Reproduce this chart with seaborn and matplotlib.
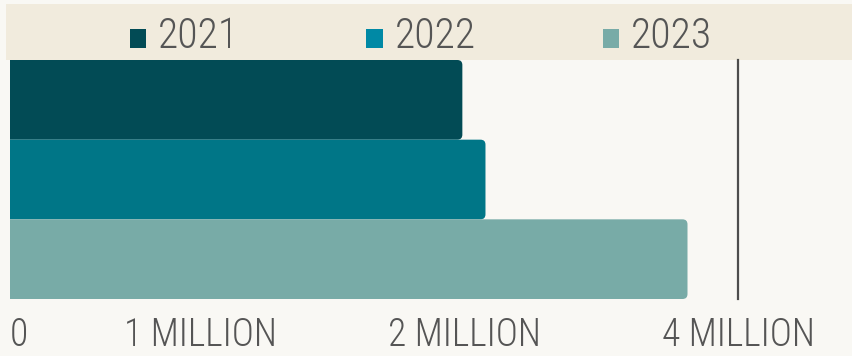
import os
import numpy as np
import pandas as pd
import matplotlib
matplotlib.use("Agg")
import matplotlib.pyplot as plt
import seaborn as sns
from matplotlib import font_manager as fm
from matplotlib.patches import Patch, FancyBboxPatch, Rectangle
from matplotlib.legend_handler import HandlerPatch
from matplotlib.transforms import IdentityTransform

# Data (values in millions)
years = ["2021", "2022", "2023"]
visitors_millions = [1.99, 2.15, 3.63]
bar_colors = ["#024b55", "#007687", "#78aba7"]
legend_colors = ["#024b55", "#0089a5", "#78aba7"]
tick_values = [0, 1, 2, 4]
tick_labels = ["0", "1 MILLION", "2 MILLION", "4 MILLION"]

# The value axis is stretched piecewise between the labelled ticks
tick_offsets = [0, 190, 455, 728]


def forward(v):
    return np.interp(v, tick_values, tick_offsets)


def inverse(t):
    return np.interp(t, tick_offsets, tick_values)


def narrow_font():
    """Return the path of the narrowest light sans face that is installed."""
    wanted = ["NotoSans-ExtraCondensedLight", "NotoSans-ExtraCondensed.",
              "NotoSans-CondensedLight", "NotoSans-Condensed.",
              "RobotoCondensed-Light", "RobotoCondensed-Regular",
              "LiberationSansNarrow-Regular", "DejaVuSansCondensed."]
    files = [f.fname for f in fm.fontManager.ttflist]
    for key in wanted:
        for path in files:
            if key in os.path.basename(path):
                return path
    return None


sns.set_theme(style="white")
plt.rcParams["font.family"] = ["DejaVu Sans"]

font_path = narrow_font()


def label_font(size):
    if font_path:
        return fm.FontProperties(fname=font_path, size=size)
    return fm.FontProperties(family="DejaVu Sans", size=size * 0.75)


def square_swatch(legend, orig_handle, xdescent, ydescent, width, height, fontsize):
    # small square sitting on the text baseline
    return Rectangle((-xdescent, 0), width, 0.44 * fontsize)


W, H = 852, 356
BG = "#f9f8f4"
BAND = "#f1ebdd"
TEXT = "#555555"

fig = plt.figure(figsize=(W / 100, H / 100), dpi=100, facecolor=BG)

# header band behind the legend
fig.add_artist(Rectangle((6 / W, (H - 60) / H), 846 / W, 56 / H,
                         transform=fig.transFigure, facecolor=BAND,
                         edgecolor="none", zorder=0))

ax = fig.add_axes([10 / W, (H - 299) / H, 728 / W, 239 / H])
ax.set_facecolor("none")

df = pd.DataFrame({"year": years, "value": visitors_millions})
sns.barplot(data=df, x="value", y="year", hue="year", palette=bar_colors,
            width=1.0, saturation=1, legend=False, ax=ax)

ax.set_xscale("function", functions=(forward, inverse))
ax.set_xlim(0, 4)
ax.set_ylim(2.5, -0.5)

# round the right-hand corners of each bar
for bar in list(ax.patches):
    ext = bar.get_window_extent()
    rounded = FancyBboxPatch((ext.x0 - 12, ext.y0), ext.width + 12, ext.height,
                             boxstyle="round,pad=0,rounding_size=5",
                             transform=IdentityTransform(),
                             facecolor=bar.get_facecolor(), edgecolor="none",
                             zorder=2)
    ax.add_artist(rounded)
    rounded.set_clip_path(ax.patch)
    bar.remove()

ax.set_xticks(tick_values, tick_labels)
ax.tick_params(axis="x", length=0, pad=12.5, labelcolor=TEXT)
for lbl in ax.get_xticklabels():
    lbl.set_fontproperties(label_font(27))
ax.get_xticklabels()[0].set_horizontalalignment("left")
ax.set_yticks([])
ax.set_xlabel("")
ax.set_ylabel("")
for side in ["top", "left", "bottom"]:
    ax.spines[side].set_visible(False)
ax.spines["right"].set_color("#4d4d4d")
ax.spines["right"].set_linewidth(1.6)

handles = [Patch(facecolor=c, edgecolor="none", label=y)
           for c, y in zip(legend_colors, years)]
fig.legend(handles=handles, loc="center", bbox_to_anchor=(421 / W, (H - 36) / H),
           ncol=3, frameon=False, prop=label_font(30), handlelength=0.4,
           handletextpad=0.28, columnspacing=3.05, labelcolor=TEXT,
           handler_map={Patch: HandlerPatch(patch_func=square_swatch)})

fig.savefig("out.png", dpi=100, facecolor=BG)
